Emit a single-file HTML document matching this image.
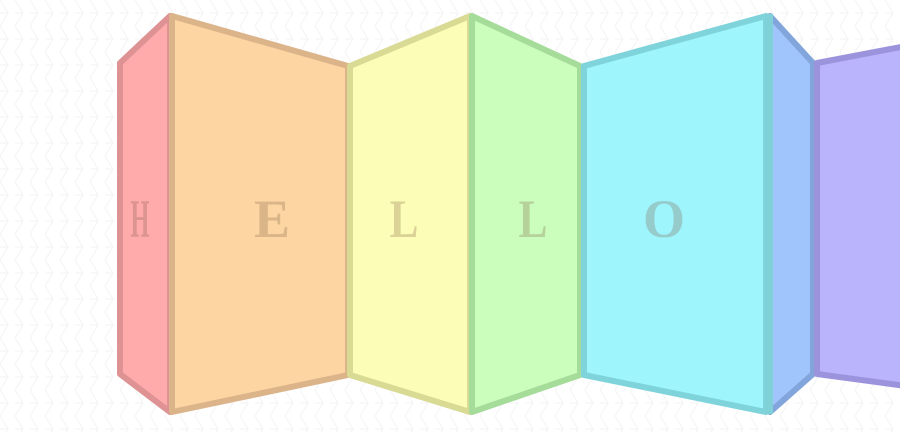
<!DOCTYPE html>
<html><head><meta charset="utf-8">
<style>
html,body{margin:0;padding:0;background:#fff;width:900px;height:432px;overflow:hidden}
svg{display:block}
text{font-family:"Liberation Serif",serif;font-weight:bold;font-size:54px;text-anchor:middle;fill:rgba(120,90,60,0.26)}
</style></head>
<body>
<svg width="900" height="432" viewBox="0 0 900 432">
<defs>
<pattern id="zz" width="30" height="26" patternUnits="userSpaceOnUse">
<path d="M0 0 L8 13 L0 26 M15 0 L23 13 L15 26 M0 13 H8 M15 13 H23" fill="none" stroke="#f5f5f5" stroke-width="1.2"/>
</pattern>
</defs>
<rect width="900" height="432" fill="url(#zz)"/>
<g stroke-width="6" stroke-linejoin="round">
<polygon points="120,63 170,16 170,412 120,374" fill="#ffaaab" stroke="#de9293"/>
<polygon points="172,16 348,66 348,375 172,412" fill="#fdd5a3" stroke="#dbb48a"/>
<polygon points="350,66 470,16 470,412 350,375" fill="#fcfdb6" stroke="#d9da94"/>
<polygon points="472,16 580,66 580,375 472,412" fill="#cbfdbc" stroke="#a5dc9a"/>
<polygon points="584,66 766,16 766,412 584,375" fill="#9ff5fc" stroke="#7fd4dc"/>
<polygon points="770,16 813,63 813,374 770,412" fill="#a0c4fc" stroke="#82a6dc"/>
<polygon points="817,63 906,46 906,386 817,374" fill="#bab4fc" stroke="#9b94dc"/>
</g>
<rect x="765" y="14" width="8" height="400" fill="#80d0d8"/>
<text x="140" y="237" transform="translate(140 0) scale(0.45 1) translate(-140 0)">H</text>
<text x="272" y="237">E</text>
<text x="404" y="237" transform="translate(404 0) scale(0.8 1) translate(-404 0)">L</text>
<text x="533" y="237" transform="translate(533 0) scale(0.8 1) translate(-533 0)">L</text>
<text x="664" y="237">O</text>
</svg>
</body></html>
